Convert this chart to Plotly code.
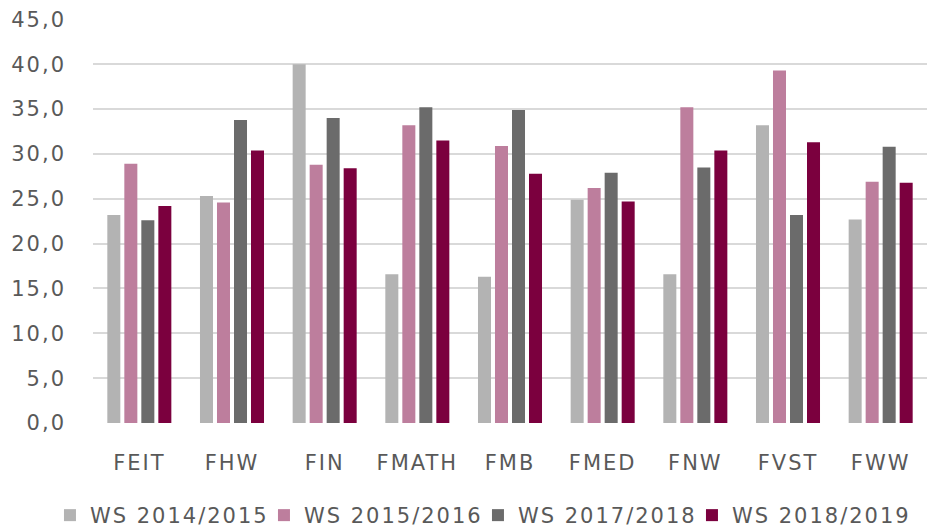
import plotly.graph_objects as go

categories = ["FEIT", "FHW", "FIN", "FMATH", "FMB", "FMED", "FNW", "FVST", "FWW"]
ws_2014_2015 = [23.2, 25.3, 40.0, 16.6, 16.3, 24.9, 16.6, 33.2, 22.7]
ws_2015_2016 = [28.9, 24.6, 28.8, 33.2, 30.9, 26.2, 35.2, 39.3, 26.9]
ws_2017_2018 = [22.6, 33.8, 34.0, 35.2, 34.9, 27.9, 28.5, 23.2, 30.8]
ws_2018_2019 = [24.2, 30.4, 28.4, 31.5, 27.8, 24.7, 30.4, 31.3, 26.8]
y_ticks = [0, 5, 10, 15, 20, 25, 30, 35, 40, 45]

series = [
    ("WS 2014/2015", ws_2014_2015, "#B3B3B3"),
    ("WS 2015/2016", ws_2015_2016, "#BD7E9D"),
    ("WS 2017/2018", ws_2017_2018, "#6B6B6B"),
    ("WS 2018/2019", ws_2018_2019, "#7B003E"),
]

fig = go.Figure()
for name, vals, color in series:
    fig.add_trace(go.Bar(name=name, x=categories, y=vals,
                         marker=dict(color=color, line=dict(width=0))))

font_family = "DejaVu Sans"
fig.update_layout(
    width=930, height=530,
    margin=dict(l=93, r=3, t=19, b=107),
    paper_bgcolor="white", plot_bgcolor="white",
    barmode="group", bargap=0.266, bargroupgap=0.235,
    separators=",.",
    font=dict(family=font_family, size=21, color="#595959"),
    showlegend=True,
    legend=dict(orientation="h", x=-0.0516, xanchor="left",
                y=-0.245, yanchor="bottom",
                font=dict(size=21, color="#595959"),
                itemwidth=30, entrywidth=169, tracegroupgap=0),
    xaxis=dict(showgrid=False, showline=False, zeroline=False,
               ticks="", ticklabelstandoff=25),
    yaxis=dict(range=[0, 45.05], tickvals=y_ticks, tickformat=".1f",
               showgrid=True, gridcolor="#D9D9D9", gridwidth=1.5,
               zeroline=False, showline=False, ticks="",
               ticklabelstandoff=26),
)
post = """
document.body.style.margin='0';
document.querySelectorAll('.xtick text, .ytick text, .legendtext').forEach(function(t){t.style.letterSpacing='2px';});
document.querySelectorAll('.legend .scrollbox').forEach(function(e){e.removeAttribute('clip-path');});
document.querySelectorAll('g.legend').forEach(function(lg){
  var tr = lg.getAttribute('transform') || '';
  var m = tr.match(/translate\\(([-\\d.e]+)[ ,]+([-\\d.e]+)\\)/);
  if (m) { lg.setAttribute('transform', 'translate(' + m[1] + ',' + (parseFloat(m[2]) + 14) + ')'); }
});
"""
fig.write_html("out.html", post_script=post, config={"displayModeBar": False})
